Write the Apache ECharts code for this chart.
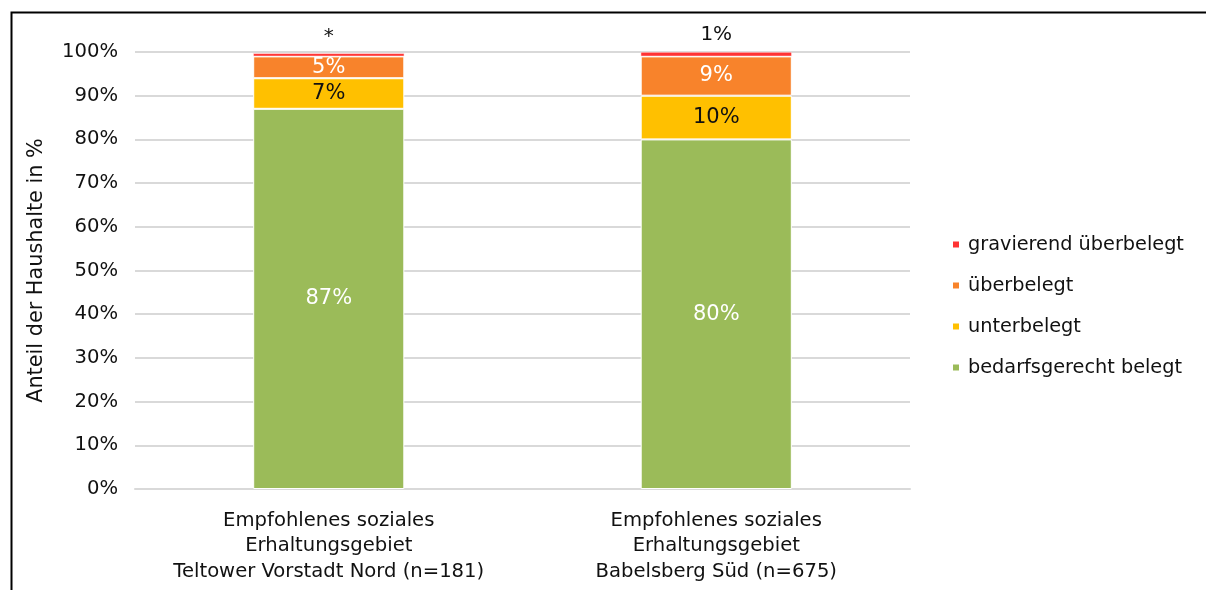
<!DOCTYPE html>
<html>
<head>
<meta charset="utf-8">
<script src="https://cdn.jsdelivr.net/npm/echarts@6/dist/echarts.min.js"></script>
<style>
  html, body { margin: 0; padding: 0; background: #fff; }
  #chart { width: 1206px; height: 590px; }
</style>
</head>
<body>
<div id="chart"></div>
<script>
// Areas and their sample sizes
const categories = [
  'Empfohlenes soziales\nErhaltungsgebiet\nTeltower Vorstadt Nord (n=181)',
  'Empfohlenes soziales\nErhaltungsgebiet\nBabelsberg Süd (n=675)'
];

// Share of households per occupancy class, in percent
const bedarfsgerecht = [87, 80];
const unterbelegt = [7, 10];
const ueberbelegt = [5, 9];
const gravierend = [0.7, 1];
// Text shown above the thin top segment ("*" = below 1 %)
const gravierendLabels = ['*', '1%'];

const yTicks = [0, 10, 20, 30, 40, 50, 60, 70, 80, 90, 100];

const FONT = 'DejaVu Sans';
const pct = v => Math.round(v) + '%';

function seriesOf(name, values, color, labelColor, labels) {
  return {
    name: name,
    type: 'bar',
    stack: 'total',
    barWidth: '39%',
    data: values,
    itemStyle: { color: color, borderColor: '#ffffff', borderWidth: labels ? 0.5 : 1 },
    label: labels ? {
      show: true,
      position: 'top',
      distance: 7,
      color: '#111',
      fontFamily: FONT,
      fontSize: 20,
      formatter: p => labels[p.dataIndex]
    } : {
      show: true,
      position: 'inside',
      color: labelColor,
      fontFamily: FONT,
      fontSize: 21,
      formatter: p => pct(p.value)
    }
  };
}

const chart = echarts.init(document.getElementById('chart'), null, { renderer: 'canvas' });
chart.setOption({
  animation: false,
  backgroundColor: '#ffffff',
  textStyle: { fontFamily: FONT },
  graphic: [{
    type: 'rect',
    left: 9, top: 10,
    shape: { width: 1400, height: 800 },
    style: { fill: 'none', stroke: '#000', lineWidth: 2 },
    silent: true,
    z: -1
  }],
  grid: { left: 135, right: 296, top: 52, bottom: 101 },
  legend: {
    data: ['gravierend überbelegt', 'überbelegt', 'unterbelegt', 'bedarfsgerecht belegt'],
    orient: 'vertical',
    left: 946,
    top: 230,
    itemWidth: 8,
    itemHeight: 8,
    itemGap: 22,
    icon: 'rect',
    textStyle: { fontFamily: FONT, fontSize: 19.3, color: '#111', padding: [0, 0, 0, 3] }
  },
  xAxis: {
    type: 'category',
    data: categories,
    axisLine: { show: true, lineStyle: { color: '#d9d9d9', width: 2 } },
    axisTick: { show: false },
    axisLabel: {
      interval: 0,
      margin: 19,
      color: '#111',
      fontFamily: FONT,
      fontSize: 19.6,
      lineHeight: 25.5
    }
  },
  yAxis: {
    type: 'value',
    min: 0,
    max: 100,
    interval: 10,
    name: 'Anteil der Haushalte in %',
    nameLocation: 'middle',
    nameGap: 88,
    nameTextStyle: { fontFamily: FONT, fontSize: 20.8, color: '#111' },
    axisLine: { show: false },
    axisTick: { show: false },
    splitLine: { lineStyle: { color: '#d9d9d9', width: 2 } },
    axisLabel: {
      margin: 17,
      color: '#111',
      fontFamily: FONT,
      fontSize: 19.6,
      formatter: v => (yTicks.includes(v) ? v + '%' : '')
    }
  },
  series: [
    seriesOf('bedarfsgerecht belegt', bedarfsgerecht, '#9BBB59', '#ffffff'),
    seriesOf('unterbelegt', unterbelegt, '#FFC000', '#111111'),
    seriesOf('überbelegt', ueberbelegt, '#F8832B', '#ffffff'),
    seriesOf('gravierend überbelegt', gravierend, '#FF3333', '#111111', gravierendLabels)
  ]
});
</script>
</body>
</html>
